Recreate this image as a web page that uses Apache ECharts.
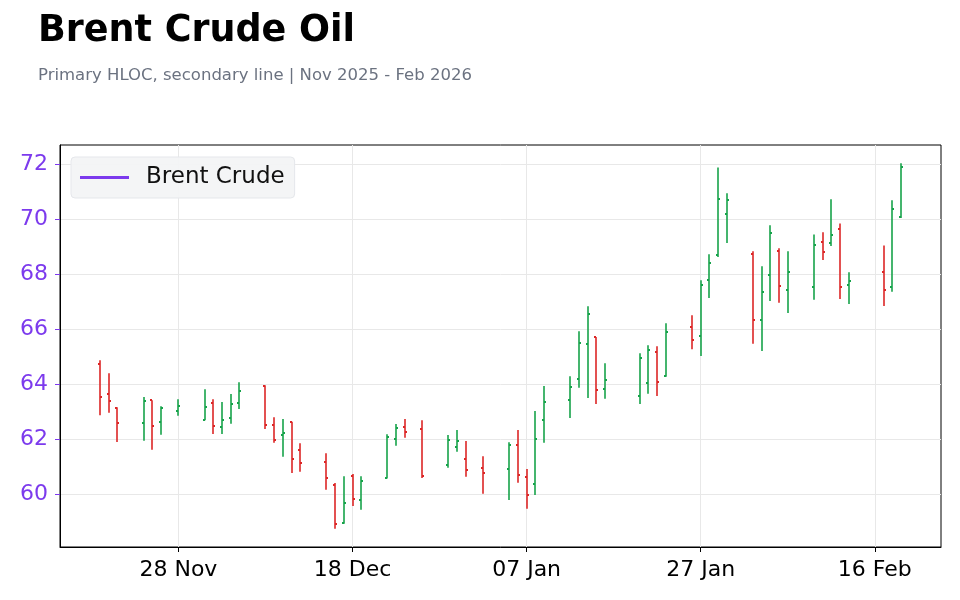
<!DOCTYPE html>
<html>
<head>
<meta charset="utf-8">
<title>Brent Crude Oil</title>
<script src="https://cdn.jsdelivr.net/npm/echarts@6/dist/echarts.min.js"></script>
<style>
  html, body { margin: 0; padding: 0; background: #fff; }
  #chart { width: 960px; height: 600px; }
</style>
</head>
<body>
<div id="chart"></div>
<script>
// trading days, Nov 2025 - Feb 2026
var dates = [
  '2025-11-19', '2025-11-20', '2025-11-21', '2025-11-24', '2025-11-25', '2025-11-26', '2025-11-28',
  '2025-12-01', '2025-12-02', '2025-12-03', '2025-12-04', '2025-12-05', '2025-12-08', '2025-12-09',
  '2025-12-10', '2025-12-11', '2025-12-12', '2025-12-15', '2025-12-16', '2025-12-17', '2025-12-18',
  '2025-12-19', '2025-12-22', '2025-12-23', '2025-12-24', '2025-12-26', '2025-12-29', '2025-12-30',
  '2025-12-31', '2026-01-02', '2026-01-05', '2026-01-06', '2026-01-07', '2026-01-08', '2026-01-09',
  '2026-01-12', '2026-01-13', '2026-01-14', '2026-01-15', '2026-01-16', '2026-01-20', '2026-01-21',
  '2026-01-22', '2026-01-23', '2026-01-26', '2026-01-27', '2026-01-28', '2026-01-29', '2026-01-30',
  '2026-02-02', '2026-02-03', '2026-02-04', '2026-02-05', '2026-02-06', '2026-02-09', '2026-02-10',
  '2026-02-11', '2026-02-12', '2026-02-13', '2026-02-17', '2026-02-18', '2026-02-19'
];
var opens = [
  64.73, 63.63, 63.14, 62.59, 63.42, 62.63, 63.03,
  62.69, 63.33, 62.45, 62.77, 63.32, 63.94, 62.51,
  62.15, 62.63, 61.60, 61.16, 60.34, 58.96, 60.67,
  59.79, 60.59, 62.01, 62.45, 62.37, 61.07, 61.72,
  61.28, 60.96, 60.91, 61.79, 60.63, 60.37, 62.70,
  63.43, 64.19, 65.47, 65.72, 63.83, 63.57, 64.05,
  65.17, 64.30, 66.08, 65.76, 67.79, 68.70, 70.19,
  68.74, 66.34, 67.97, 68.85, 67.43, 67.54, 69.17,
  69.14, 69.65, 67.61, 68.08, 67.54, 70.08
];
var highs = [
  64.87, 64.40, 63.16, 63.53, 63.42, 63.20, 63.45,
  63.82, 63.45, 63.35, 63.64, 64.07, 63.96, 62.80,
  62.73, 62.63, 61.85, 61.49, 60.40, 60.65, 60.73,
  60.65, 62.18, 62.55, 62.73, 62.69, 62.15, 62.33,
  61.93, 61.38, 61.89, 62.33, 60.91, 63.02, 63.93,
  64.29, 65.93, 66.84, 65.72, 64.76, 65.13, 65.42,
  65.38, 66.22, 66.51, 67.78, 68.73, 71.89, 70.95,
  68.84, 68.29, 69.78, 68.95, 68.84, 69.45, 69.53,
  70.73, 69.85, 68.07, 69.05, 70.69, 72.04
];
var lows = [
  62.87, 62.96, 61.90, 61.94, 61.61, 62.16, 62.85,
  62.69, 62.19, 62.19, 62.56, 63.10, 62.37, 61.87,
  61.36, 60.77, 60.81, 60.16, 58.74, 58.92, 59.57,
  59.43, 60.57, 61.76, 62.05, 60.59, 60.96, 61.54,
  60.63, 60.01, 59.79, 60.41, 59.47, 59.97, 61.87,
  62.77, 63.87, 63.50, 63.28, 63.47, 63.28, 63.65,
  63.57, 64.27, 65.27, 65.03, 67.14, 68.63, 69.14,
  65.47, 65.21, 67.03, 66.96, 66.59, 67.07, 68.52,
  69.03, 67.10, 66.92, 66.85, 67.36, 70.05
];
var closes = [
  63.54, 63.39, 62.59, 63.39, 62.48, 63.14, 63.21,
  63.17, 62.48, 62.70, 63.28, 63.76, 62.52, 61.96,
  62.23, 61.27, 61.13, 60.59, 58.91, 59.68, 59.83,
  60.48, 62.08, 62.41, 62.27, 60.67, 61.97, 61.94,
  60.88, 60.77, 61.79, 60.70, 59.97, 62.01, 63.36,
  63.90, 65.50, 66.56, 63.79, 64.16, 64.96, 65.24,
  64.08, 65.90, 65.60, 67.61, 68.41, 70.74, 70.70,
  66.34, 67.36, 69.50, 67.57, 68.08, 69.07, 68.81,
  69.43, 67.54, 67.76, 67.43, 70.37, 71.90
];

var xTickDates = ['2025-11-28', '2025-12-18', '2026-01-07', '2026-01-27', '2026-02-16'];
var xTickLabels = ['28 Nov', '18 Dec', '07 Jan', '27 Jan', '16 Feb'];
var yTicks = [60, 62, 64, 66, 68, 70, 72];

var UP = '#16a34a';
var DOWN = '#dc2626';
var LINE_COLOR = '#7c3aed';

function toTime(s) {
  var p = s.split('-');
  return new Date(+p[0], +p[1] - 1, +p[2]).getTime();
}

var hloc = dates.map(function (d, i) {
  return [toTime(d), opens[i], highs[i], lows[i], closes[i]];
});
var xTickValues = xTickDates.map(toTime);

// vertical high-low line, open tick to the left, close tick to the right
function renderBar(params, api) {
  var x = Math.round(api.coord([api.value(0), 0])[0]);
  var yO = Math.round(api.coord([api.value(0), api.value(1)])[1]);
  var yH = api.coord([api.value(0), api.value(2)])[1];
  var yL = api.coord([api.value(0), api.value(3)])[1];
  var yC = Math.round(api.coord([api.value(0), api.value(4)])[1]);
  var color = api.value(4) >= api.value(1) ? UP : DOWN;
  return {
    type: 'group',
    children: [
      {
        type: 'line',
        shape: { x1: x, y1: yH, x2: x, y2: yL },
        style: { stroke: color, lineWidth: 2, opacity: 0.8 }
      },
      {
        type: 'line',
        shape: { x1: x - 2, y1: yO, x2: x, y2: yO },
        style: { stroke: color, lineWidth: 2 }
      },
      {
        type: 'line',
        shape: { x1: x, y1: yC, x2: x + 2, y2: yC },
        style: { stroke: color, lineWidth: 2 }
      }
    ]
  };
}

var chart = echarts.init(document.getElementById('chart'));

var option = {
  backgroundColor: '#fff',
  animation: false,
  textStyle: { fontFamily: 'DejaVu Sans' },
  title: [
    {
      text: 'Brent Crude Oil',
      left: 33,
      top: 8,
      textStyle: { fontSize: 36.5, fontWeight: 'bold', color: '#000', fontFamily: 'DejaVu Sans' }
    },
    {
      text: 'Primary HLOC, secondary line | Nov 2025 - Feb 2026',
      left: 33,
      top: 62,
      textStyle: { fontSize: 16.5, fontWeight: 'normal', color: '#6b7280', fontFamily: 'DejaVu Sans' }
    }
  ],
  legend: {
    data: [{ name: 'Brent Crude', icon: 'rect' }],
    left: 71,
    top: 157,
    padding: [9, 10, 9, 9],
    itemWidth: 49,
    itemHeight: 3,
    backgroundColor: 'rgba(243,244,246,0.95)',
    borderColor: '#e5e7eb',
    borderWidth: 1,
    borderRadius: 4,
    textStyle: { fontSize: 23, color: '#111', padding: [0, 0, 0, 12], fontFamily: 'DejaVu Sans' }
  },
  grid: {
    left: 60,
    right: 19,
    top: 145,
    bottom: 53,
    show: true,
    borderColor: '#000',
    borderWidth: 1,
    outerBoundsMode: 'none'
  },
  xAxis: {
    type: 'value',
    scale: true,
    min: function (v) { return v.min - 0.05 * (v.max - v.min); },
    max: function (v) { return v.max + 0.05 * (v.max - v.min); },
    axisLine: { show: true, onZero: false, lineStyle: { color: '#000', width: 1 } },
    axisTick: { show: true, length: 5, lineStyle: { color: '#000' }, customValues: xTickValues },
    axisLabel: {
      customValues: xTickValues,
      fontSize: 22,
      color: '#000',
      margin: 12,
      fontFamily: 'DejaVu Sans',
      formatter: function (val) {
        var i = xTickValues.indexOf(val);
        return i >= 0 ? xTickLabels[i] : '';
      }
    },
    splitLine: { show: true, lineStyle: { color: '#e8e8e8', width: 1 } }
  },
  yAxis: {
    type: 'value',
    scale: true,
    min: function (v) { return v.min - 0.05 * (v.max - v.min); },
    max: function (v) { return v.max + 0.05 * (v.max - v.min); },
    axisLine: { show: true, onZero: false, lineStyle: { color: '#000', width: 1 } },
    axisTick: { show: true, length: 5, lineStyle: { color: LINE_COLOR }, customValues: yTicks },
    axisLabel: {
      customValues: yTicks,
      fontSize: 22,
      color: LINE_COLOR,
      margin: 12,
      fontFamily: 'DejaVu Sans'
    },
    splitLine: { show: true, lineStyle: { color: '#e8e8e8', width: 1 } }
  },
  series: [
    {
      name: 'HLOC',
      type: 'custom',
      renderItem: renderBar,
      encode: { x: 0, y: [1, 2, 3, 4] },
      data: hloc,
      z: 3
    },
    {
      // secondary line series: only shows in the legend
      name: 'Brent Crude',
      type: 'line',
      symbol: 'none',
      color: LINE_COLOR,
      lineStyle: { color: LINE_COLOR, width: 3 },
      data: []
    }
  ]
};

chart.setOption(option);
</script>
</body>
</html>
